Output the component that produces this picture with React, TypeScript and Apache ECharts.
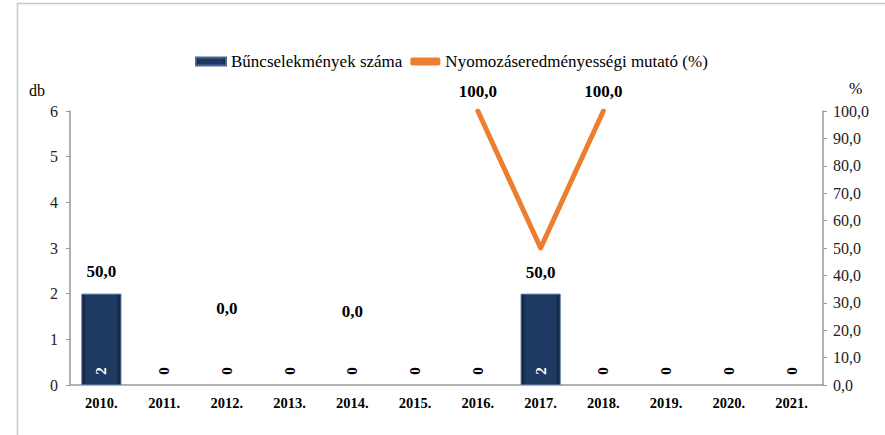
import React, { useEffect, useRef } from "react";
import * as echarts from "echarts";

const categories = ["2010.", "2011.", "2012.", "2013.", "2014.", "2015.", "2016.", "2017.", "2018.", "2019.", "2020.", "2021."];
const crimeCounts = [2, 0, 0, 0, 0, 0, 0, 2, 0, 0, 0, 0];
const detectionRate: (number | null)[] = [50, null, 0, null, 0, null, 100, 50, 100, null, null, null];
// label placement for the rate labels: [position, distance]
const rateLabelPlacement: [string, number][] = [
  ["bottom", 15], ["top", 8], ["top", 68], ["top", 8], ["top", 65], ["top", 8],
  ["top", 11], ["bottom", 16], ["top", 11], ["top", 8], ["top", 8], ["top", 8],
];
const leftTicks = { min: 0, max: 6, interval: 1 };
const rightTicks = { min: 0, max: 100, interval: 10 };
const barName = "Bűncselekmények száma";
const lineName = "Nyomozáseredményességi mutató (%)";

const FONT = "'Liberation Serif', 'Times New Roman', serif";

export default function App() {
  const ref = useRef<HTMLDivElement>(null);
  useEffect(() => {
    if (!ref.current) return;
    const chart = echarts.init(ref.current, null, { renderer: "svg" });
    const fmt = (v: number) => v.toFixed(1).replace(".", ",");
    const barData = crimeCounts.map((v) => ({
      value: v,
      itemStyle: v > 0 ? {} : { borderWidth: 0 },
      label: { color: v > 0 ? "#ffffff" : "#000000" },
    }));
    const lineData = detectionRate.map((v, i) => ({
      value: v,
      label: {
        position: rateLabelPlacement[i][0],
        distance: rateLabelPlacement[i][1],
      },
    }));
    chart.setOption({
      animation: false,
      textStyle: { fontFamily: FONT },
      graphic: [
        {
          type: "rect",
          silent: true,
          shape: { x: 17.5, y: 3.5, width: 1000, height: 1000 },
          style: { fill: "none", stroke: "#c8c8c8", lineWidth: 1.5 },
        },
      ],
      legend: {
        left: 190,
        top: 48,
        itemWidth: 30,
        itemHeight: 8,
        itemGap: 8,
        textStyle: { fontFamily: FONT, fontSize: 17, color: "#000" },
        data: [
          { name: barName, icon: "rect" },
          { name: lineName, icon: "roundRect" },
        ],
      },
      grid: { left: 70, right: 62, top: 111, bottom: 50, containLabel: false },
      xAxis: {
        type: "category",
        data: categories,
        axisLine: { show: true, lineStyle: { color: "#999", width: 1.5 } },
        axisTick: { show: false },
        axisLabel: {
          fontFamily: FONT,
          fontSize: 14.5,
          fontWeight: "bold",
          color: "#000",
          margin: 10,
        },
      },
      yAxis: [
        {
          type: "value",
          min: leftTicks.min,
          max: leftTicks.max,
          interval: leftTicks.interval,
          name: "db",
          nameLocation: "end",
          nameGap: 13,
          nameTextStyle: { fontFamily: FONT, fontSize: 16, color: "#000", align: "right", padding: [0, 25, 0, 0] },
          axisLine: { show: true, lineStyle: { color: "#999", width: 1.5 } },
          axisTick: { show: true, length: 4, lineStyle: { color: "#999" } },
          splitLine: { show: false },
          axisLabel: { fontFamily: FONT, fontSize: 16, color: "#222", margin: 12 },
        },
        {
          type: "value",
          min: rightTicks.min,
          max: rightTicks.max,
          interval: rightTicks.interval,
          name: "%",
          nameLocation: "end",
          nameGap: 15,
          nameTextStyle: { fontFamily: FONT, fontSize: 16, color: "#000", align: "left", padding: [0, 0, 0, 26] },
          axisLine: { show: true, lineStyle: { color: "#999", width: 1.5 } },
          axisTick: { show: true, length: 4, lineStyle: { color: "#999" } },
          splitLine: { show: false },
          axisLabel: { fontFamily: FONT, fontSize: 16, color: "#222", margin: 10, formatter: fmt },
        },
      ],
      series: [
        {
          name: barName,
          type: "bar",
          yAxisIndex: 0,
          barWidth: 40,
          data: barData,
          itemStyle: {
            color: new echarts.graphic.LinearGradient(0, 0, 1, 0, [
              { offset: 0, color: "#0c1c36" },
              { offset: 0.12, color: "#1f3a62" },
              { offset: 0.88, color: "#1f3a62" },
              { offset: 1, color: "#0c1c36" },
            ]),
            borderColor: "#4a6890",
            borderWidth: 1,
          },
          label: {
            show: true,
            position: "insideBottom",
            distance: 14,
            rotate: 90,
            align: "center",
            verticalAlign: "middle",
            fontFamily: FONT,
            fontSize: 15,
            fontWeight: "bold",
          },
        },
        {
          name: lineName,
          type: "line",
          yAxisIndex: 1,
          data: lineData,
          connectNulls: false,
          symbol: "circle",
          symbolSize: 0,
          showSymbol: true,
          z: 5,
          lineStyle: { color: "#ED7D31", width: 5, cap: "round", join: "round" },
          itemStyle: { color: "#ED7D31" },
          label: {
            show: true,
            fontFamily: FONT,
            fontSize: 17,
            fontWeight: "bold",
            color: "#000",
            formatter: (p: any) => fmt(p.value),
          },
        },
      ],
    });
    return () => chart.dispose();
  }, []);
  return (
    <div
      ref={ref}
      style={{ position: "fixed", left: 0, top: 0, width: 885, height: 435, background: "#fff" }}
    />
  );
}
